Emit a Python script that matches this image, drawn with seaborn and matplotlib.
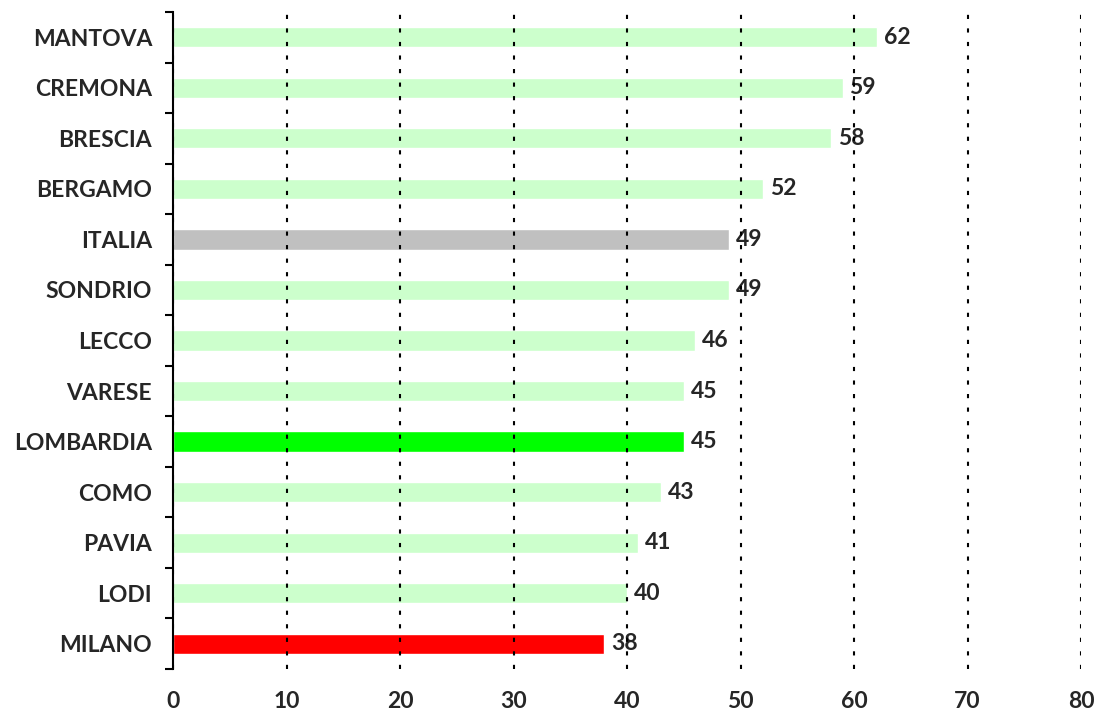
import matplotlib
matplotlib.use("Agg")
import matplotlib.pyplot as plt
import seaborn as sns
import pandas as pd
import numpy as np

# Data
provinces = ["MANTOVA", "CREMONA", "BRESCIA", "BERGAMO", "ITALIA", "SONDRIO", "LECCO",
             "VARESE", "LOMBARDIA", "COMO", "PAVIA", "LODI", "MILANO"]
values = [62, 59, 58, 52, 49, 49, 46, 45, 45, 43, 41, 40, 38]
colors = ["#CCFFCC"] * 4 + ["#C0C0C0"] + ["#CCFFCC"] * 3 + ["#00FF00"] + ["#CCFFCC"] * 3 + ["#FF0000"]

df = pd.DataFrame({"provincia": provinces, "valore": values})

sns.set_style("white")
plt.rcParams['font.family'] = ['Lato', 'DejaVu Sans']

fig = plt.figure(figsize=(10.97, 7.15), dpi=100)
ax = fig.add_axes([173 / 1097, 1 - 669 / 715, (1081 - 173) / 1097, (669 - 12) / 715])

sns.barplot(data=df, y="provincia", x="valore", hue="provincia", palette=colors,
            legend=False, width=0.4, saturation=1, ax=ax, zorder=2)

ax.set_xlim(0, 80)
ax.set_ylim(len(provinces) - 0.5, -0.5)
ax.set_xticks(np.arange(0, 81, 10))
ax.set_xlabel("")
ax.set_ylabel("")

# Grid
ax.set_axisbelow(False)
ax.xaxis.grid(True, linestyle=(0, (2, 4.5)), color="black", linewidth=1.5, zorder=1.5)
for gl in ax.get_xgridlines():
    gl.set_zorder(1.5)

# Spines
for s in ["top", "right", "bottom"]:
    ax.spines[s].set_visible(False)
ax.spines["left"].set_color("black")
ax.spines["left"].set_linewidth(1.5)

# Y ticks at category boundaries
ax.set_yticks(np.arange(len(provinces)))
ax.set_yticklabels(provinces, fontsize=16.5, fontweight="bold")
ax.set_yticks(np.arange(-0.5, len(provinces), 1), minor=True)
ax.tick_params(axis="y", which="major", left=False, length=0, pad=15)
ax.tick_params(axis="y", which="minor", left=True, length=6, width=1.5, color="black", direction="out")
ax.tick_params(axis="x", length=0, pad=16, labelsize=16.5)
for lbl in ax.get_xticklabels():
    lbl.set_fontweight("bold")

# Value labels
for i, v in enumerate(values):
    ax.text(v + 0.6, i, str(v), va="center", ha="left", fontsize=16.5,
            fontweight="bold", zorder=1)

fig.savefig("out.png", dpi=100)
